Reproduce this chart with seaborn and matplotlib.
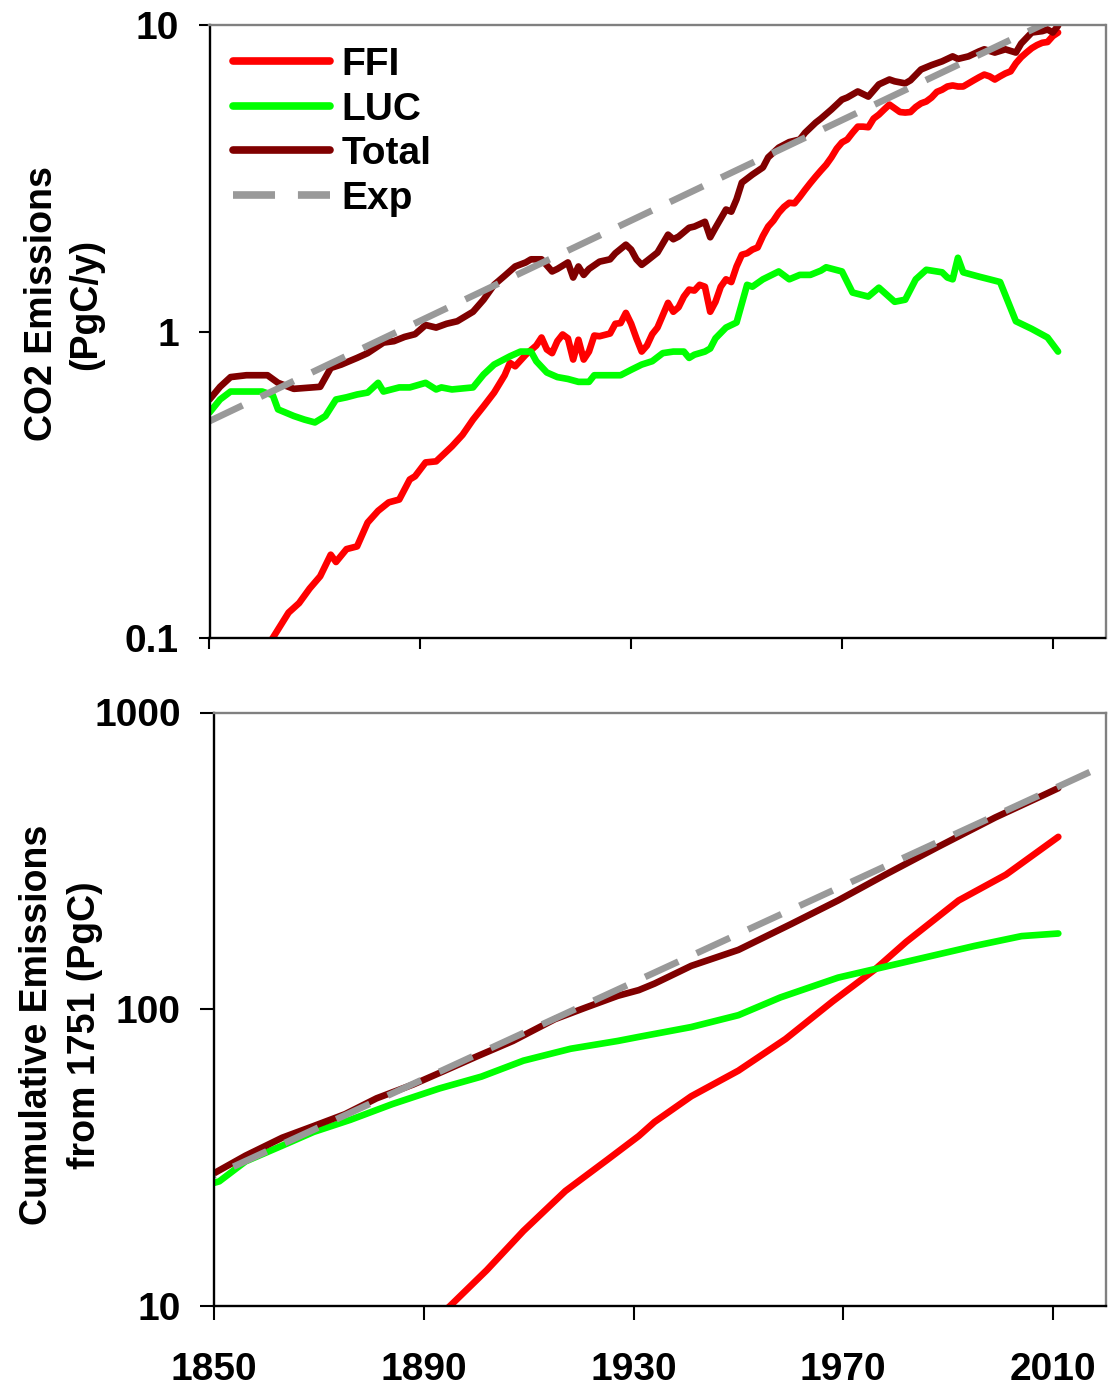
import matplotlib
matplotlib.use("Agg")
import matplotlib.pyplot as plt
from matplotlib.ticker import NullLocator
import seaborn as sns

# ---------------- data ----------------
ffi_years = [1850, 1855, 1860, 1862, 1865, 1867, 1869, 1871, 1873, 1874, 1876, 1878, 1880,
             1882, 1884, 1886, 1888, 1889, 1891, 1893, 1896, 1898, 1900, 1902, 1904, 1906,
             1907, 1908, 1910, 1912, 1913, 1914, 1915, 1916, 1917, 1918, 1919, 1920, 1921,
             1922, 1923, 1924, 1925, 1926, 1927, 1928, 1929, 1930, 1931, 1932, 1933, 1934,
             1935, 1936, 1937, 1938, 1939, 1940, 1941, 1942, 1943, 1944, 1945, 1946, 1947,
             1948, 1949, 1950, 1951, 1952, 1953, 1954, 1955, 1956, 1957, 1958, 1959, 1960,
             1961, 1962, 1963, 1964, 1965, 1966, 1967, 1968, 1969, 1970, 1971, 1972, 1973,
             1974, 1975, 1976, 1977, 1978, 1979, 1980, 1981, 1982, 1983, 1984, 1985, 1986,
             1987, 1988, 1989, 1990, 1991, 1992, 1993, 1994, 1995, 1996, 1997, 1998, 1999,
             2000, 2001, 2002, 2003, 2004, 2005, 2006, 2007, 2008, 2009, 2010, 2011]
ffi_values = [0.054, 0.07, 0.09, 0.10, 0.121, 0.13, 0.145, 0.159, 0.187, 0.177, 0.195, 0.199, 0.238,
              0.26, 0.277, 0.283, 0.329, 0.337, 0.374, 0.377, 0.422, 0.46, 0.516, 0.57, 0.632, 0.72,
              0.79, 0.77, 0.84, 0.90, 0.956, 0.874, 0.85, 0.93, 0.978, 0.95, 0.81, 0.94, 0.81,
              0.86, 0.97, 0.965, 0.975, 0.985, 1.06, 1.065, 1.15, 1.06, 0.95, 0.86, 0.90, 0.98,
              1.03, 1.13, 1.24, 1.16, 1.20, 1.30, 1.37, 1.36, 1.42, 1.40, 1.16, 1.25, 1.40,
              1.48, 1.45, 1.63, 1.78, 1.80, 1.85, 1.88, 2.05, 2.20, 2.30, 2.44, 2.55, 2.63,
              2.62, 2.75, 2.90, 3.05, 3.20, 3.35, 3.50, 3.70, 3.95, 4.14, 4.23, 4.45, 4.66,
              4.66, 4.64, 4.95, 5.10, 5.30, 5.50, 5.35, 5.20, 5.18, 5.20, 5.40, 5.55, 5.63,
              5.80, 6.05, 6.15, 6.30, 6.35, 6.30, 6.30, 6.45, 6.60, 6.75, 6.89, 6.80, 6.64,
              6.80, 6.95, 7.06, 7.50, 7.85, 8.13, 8.40, 8.60, 8.75, 8.80, 9.20, 9.45]

luc_years = [1850, 1852, 1854, 1860, 1862, 1863, 1866, 1868, 1870, 1872, 1874, 1876, 1878,
             1880, 1882, 1883, 1886, 1888, 1891, 1893, 1894, 1896, 1900, 1902, 1904, 1907,
             1909, 1911, 1912, 1914, 1916, 1918, 1920, 1922, 1923, 1925, 1928, 1930, 1932,
             1934, 1936, 1938, 1940, 1941, 1942, 1944, 1945, 1946, 1948, 1950, 1952, 1953,
             1955, 1958, 1960, 1962, 1964, 1966, 1967, 1970, 1972, 1975, 1977, 1980, 1982,
             1984, 1986, 1989, 1990, 1991, 1992, 1993, 1996, 1998, 2000, 2003, 2006, 2009, 2011]
luc_values = [0.544, 0.60, 0.637, 0.637, 0.62, 0.557, 0.53, 0.516, 0.505, 0.53, 0.60, 0.61, 0.623,
              0.632, 0.68, 0.637, 0.657, 0.657, 0.68, 0.647, 0.657, 0.647, 0.657, 0.724, 0.78, 0.83,
              0.86, 0.86, 0.80, 0.735, 0.71, 0.70, 0.685, 0.685, 0.72, 0.72, 0.72, 0.75, 0.78,
              0.80, 0.85, 0.86, 0.86, 0.82, 0.84, 0.86, 0.88, 0.95, 1.03, 1.07, 1.42, 1.40,
              1.48, 1.57, 1.48, 1.53, 1.53, 1.58, 1.62, 1.57, 1.34, 1.30, 1.39, 1.25, 1.27,
              1.48, 1.59, 1.56, 1.50, 1.48, 1.74, 1.56, 1.51, 1.48, 1.45, 1.08, 1.02, 0.956, 0.86]

tot_years = [1850, 1852, 1854, 1857, 1861, 1863, 1866, 1871, 1873, 1875, 1878, 1880, 1883,
             1885, 1887, 1889, 1891, 1893, 1895, 1897, 1900, 1902, 1904, 1906, 1908, 1910,
             1911, 1913, 1915, 1916, 1918, 1919, 1920, 1921, 1922, 1924, 1926, 1927, 1929,
             1930, 1931, 1932, 1933, 1935, 1937, 1938, 1939, 1941, 1942, 1944, 1945, 1946,
             1948, 1949, 1950, 1951, 1953, 1955, 1956, 1958, 1960, 1962, 1963, 1965, 1966,
             1968, 1970, 1971, 1973, 1975, 1977, 1979, 1980, 1982, 1983, 1985, 1987, 1989,
             1991, 1992, 1994, 1996, 1997, 1999, 2001, 2003, 2004, 2006, 2008, 2009, 2010, 2011]
tot_values = [0.60, 0.66, 0.71, 0.72, 0.72, 0.68, 0.65, 0.66, 0.76, 0.78, 0.82, 0.85, 0.92,
              0.93, 0.96, 0.98, 1.05, 1.03, 1.06, 1.08, 1.16, 1.27, 1.42, 1.52, 1.63, 1.68,
              1.72, 1.72, 1.57, 1.60, 1.68, 1.50, 1.63, 1.53, 1.60, 1.69, 1.72, 1.80, 1.92,
              1.85, 1.72, 1.65, 1.70, 1.81, 2.07, 2.00, 2.04, 2.18, 2.20, 2.28, 2.03, 2.18,
              2.50, 2.46, 2.70, 3.06, 3.25, 3.43, 3.70, 3.98, 4.15, 4.23, 4.45, 4.80, 4.95,
              5.30, 5.71, 5.80, 6.07, 5.84, 6.40, 6.64, 6.55, 6.45, 6.60, 7.16, 7.40, 7.61,
              7.90, 7.75, 7.90, 8.20, 8.33, 8.13, 8.33, 8.13, 8.70, 9.45, 9.55, 9.67, 9.45, 9.95]

exp_years = [1850, 2011]
exp_values = [0.51, 10.6]

cum_ffi_years = [1885, 1890, 1895, 1902, 1909, 1917, 1925, 1931, 1934, 1941, 1950, 1959,
                 1968, 1976, 1982, 1992, 2001, 2011]
cum_ffi_values = [6.9, 8.3, 10.0, 13.2, 17.9, 24.4, 31.1, 37.4, 41.7, 50.9, 62.1, 79.4,
                  106.4, 136, 168.7, 232.6, 284, 381]

cum_luc_years = [1850, 1851, 1856, 1863, 1869, 1876, 1884, 1893, 1901, 1909, 1918, 1927,
                 1931, 1941, 1950, 1958, 1969, 1982, 1995, 2004, 2011]
cum_luc_values = [26.0, 26.3, 30.7, 34.7, 38.6, 42.4, 47.9, 54.1, 59.3, 67.1, 73.6, 78.2,
                  80.7, 87.1, 95.5, 109.6, 127.8, 144.5, 163.4, 176.4, 180]

cum_tot_years = [1850, 1856, 1863, 1869, 1875, 1881, 1888, 1894, 1900, 1907, 1915, 1921,
                 1927, 1931, 1934, 1941, 1950, 1960, 1969, 1978, 1988, 1999, 2008, 2011]
cum_tot_values = [28.0, 32.1, 36.9, 40.4, 44.3, 50.1, 55.8, 62.1, 69.2, 78.2, 92.6, 101.5,
                  111, 116, 122, 140, 158.5, 193.5, 232.6, 284, 352, 443, 525, 556]

cum_exp_years = [1850, 2017]
cum_exp_values = [27.5, 630]

x_ticks = [1850, 1890, 1930, 1970, 2010]
x_tick_labels = ["1850", "1890", "1930", "1970", "2010"]
top_y_ticks = [0.1, 1, 10]
top_y_labels = ["0.1", "1", "10"]
bot_y_ticks = [10, 100, 1000]
bot_y_labels = ["10", "100", "1000"]
series_names = ["FFI", "LUC", "Total", "Exp"]
colors = {"FFI": "#FF0000", "LUC": "#00FF00", "Total": "#800000", "Exp": "#999999"}

# ---------------- style ----------------
sns.set_theme(style="white")
plt.rcParams["font.family"] = ["Liberation Sans", "DejaVu Sans"]
plt.rcParams["font.weight"] = "bold"
for key in ["text.color", "axes.labelcolor", "xtick.color", "ytick.color"]:
    plt.rcParams[key] = "black"

W, H = 1115, 1386
fig = plt.figure(figsize=(W / 100, H / 100), dpi=100)
ax1 = fig.add_axes([209.5 / W, 1 - 638 / H, (1105.5 - 209.5) / W, (638 - 25) / H])
ax2 = fig.add_axes([214 / W, 1 - 1306 / H, (1105.5 - 214) / W, (1306 - 712.5) / H])

LW = 4.8
DASH_TOP = (0, (5.5, 3.0))
DASH_BOT = (5.3, (5.5, 3.0))


def draw(ax, data, dash):
    for name, (xs, ys) in zip(series_names, data):
        kw = dict(linestyle=dash) if name == "Exp" else {}
        sns.lineplot(x=xs, y=ys, ax=ax, color=colors[name], linewidth=LW,
                     label=name, estimator=None, legend=False, **kw)


draw(ax1, [(ffi_years, ffi_values), (luc_years, luc_values),
           (tot_years, tot_values), (exp_years, exp_values)], DASH_TOP)
draw(ax2, [(cum_ffi_years, cum_ffi_values), (cum_luc_years, cum_luc_values),
           (cum_tot_years, cum_tot_values), (cum_exp_years, cum_exp_values)], DASH_BOT)

for ax, yt, yl, lo, hi, tl in [(ax1, top_y_ticks, top_y_labels, 0.1, 10, 8),
                                (ax2, bot_y_ticks, bot_y_labels, 10, 1000, 10)]:
    ax.set_yscale("log")
    ax.set_ylim(lo, hi)
    ax.set_xlim(1850, 2020)
    ax.set_yticks(yt)
    ax.set_yticklabels(yl)
    ax.yaxis.set_minor_locator(NullLocator())
    ax.xaxis.set_minor_locator(NullLocator())
    ax.set_xticks(x_ticks)
    ax.set_xlabel("")
    ax.set_ylabel("")
    for s in ["left", "bottom"]:
        ax.spines[s].set_color("black")
        ax.spines[s].set_linewidth(1.7)
    for s in ["top", "right"]:
        ax.spines[s].set_color("#808080")
        ax.spines[s].set_linewidth(1.7)
    ax.tick_params(axis="both", which="major", direction="out", length=tl, width=1.5,
                   color="black", labelcolor="black", labelsize=28, left=True, bottom=True)
    ax.tick_params(axis="y", pad=14)
    ax.tick_params(axis="x", pad=23)
    for lab in ax.get_yticklabels() + ax.get_xticklabels():
        lab.set_fontweight("bold")

ax1.set_xticklabels([])
ax2.set_xticklabels(x_tick_labels)
for lab in ax2.get_xticklabels():
    lab.set_fontweight("bold")

handles, labels = ax1.get_legend_handles_labels()
leg = ax1.legend(handles, labels, loc="upper left", bbox_to_anchor=(23 / 896, 1 - 22 / 613),
                 frameon=False, handlelength=2.5, handletextpad=0.3,
                 labelspacing=0.22, borderpad=0, borderaxespad=0,
                 prop={"weight": "bold", "size": 28})
for t in leg.get_texts():
    t.set_fontweight("bold")
    t.set_color("black")
for ln in leg.get_lines():
    ln.set_linewidth(5.5)

fig.text(64 / W, 1 - 304 / H, "CO2 Emissions\n(PgC/y)", rotation=90, ha="center",
         va="center", fontsize=27, fontweight="bold", linespacing=1.3,
         multialignment="center", color="black")
fig.text(61 / W, 1 - 1025 / H, "Cumulative Emissions\nfrom 1751 (PgC)", rotation=90,
         ha="center", va="center", fontsize=27, fontweight="bold", linespacing=1.4,
         multialignment="center", color="black")

fig.savefig("out.png", dpi=100, facecolor="white")
